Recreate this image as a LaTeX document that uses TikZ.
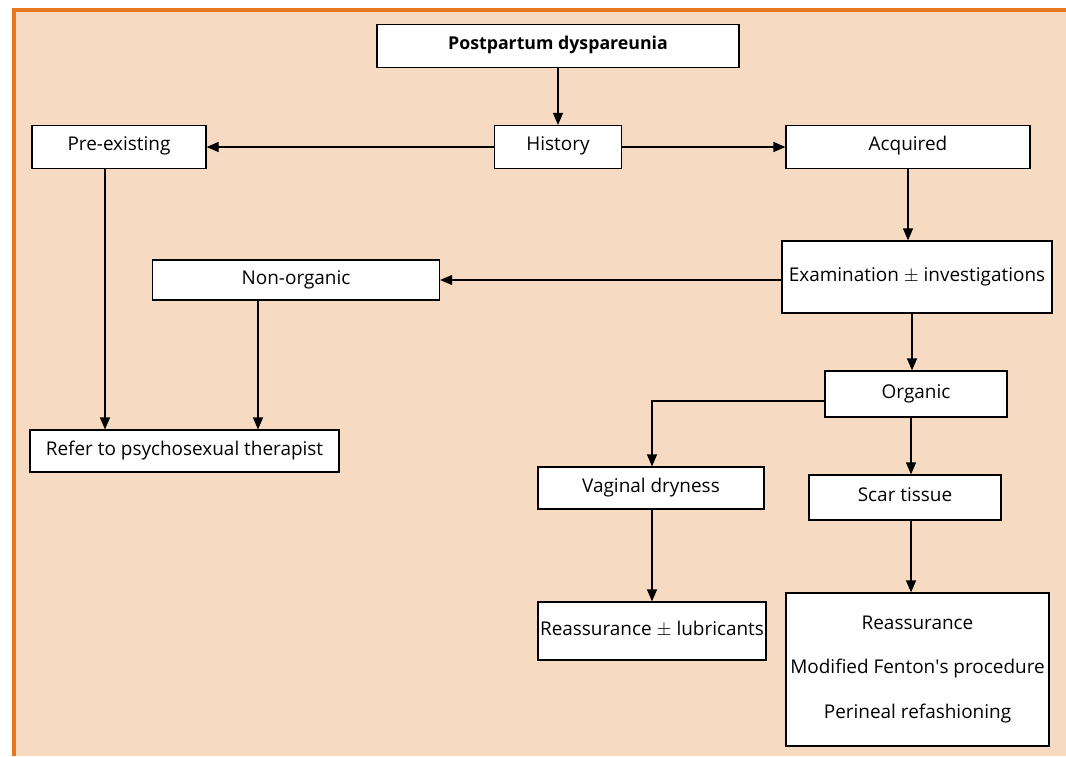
\documentclass[tikz,border=0pt]{standalone}
\usepackage{fontspec}
\setmainfont{Open Sans}
\usetikzlibrary{arrows.meta}
\definecolor{bgfill}{HTML}{F6DAC2}
\definecolor{frameor}{HTML}{E87722}
\begin{document}
\begin{tikzpicture}[x=0.75pt,y=-0.75pt,
  box/.style={draw=black,fill=white,line width=0.9pt,inner sep=0pt,align=center,text height=0.8em,text depth=0.2em,font=\fontsize{14.2}{17}\selectfont},
  conn/.style={line width=0.9pt,-{Triangle[length=9pt,width=7.5pt]}}]
\useasboundingbox (0,0) rectangle (1066,756);
\fill[bgfill] (14,10) rectangle (1066,756);
\draw[frameor,line width=2.4pt] (14,756) -- (14,10) -- (1066,10);
% boxes
\node[box,minimum width=362*0.75pt,minimum height=43*0.75pt,font=\fontsize{13.3}{16}\selectfont\bfseries] (pd) at (558,46) {Postpartum dyspareunia};
\node[box,minimum width=127*0.75pt,minimum height=43*0.75pt] (hi) at (558,147) {History};
\node[box,minimum width=174*0.75pt,minimum height=43*0.75pt] (pe) at (119,147) {Pre-existing};
\node[box,minimum width=244*0.75pt,minimum height=43*0.75pt] (ac) at (908,147) {Acquired};
\node[box,minimum width=270*0.75pt,minimum height=72*0.75pt] (ex) at (917,277) {Examination $\pm$ investigations};
\node[box,minimum width=287*0.75pt,minimum height=40*0.75pt] (no) at (296,280) {Non-organic};
\node[box,minimum width=182*0.75pt,minimum height=46*0.75pt] (or) at (916,394) {Organic};
\node[box,minimum width=309*0.75pt,minimum height=42*0.75pt] (rf) at (184.5,451) {Refer to psychosexual therapist};
\node[box,minimum width=226*0.75pt,minimum height=42*0.75pt] (vd) at (651,488) {Vaginal dryness};
\node[box,minimum width=192*0.75pt,minimum height=45*0.75pt] (st) at (905,497.5) {Scar tissue};
\node[box,minimum width=228*0.75pt,minimum height=58*0.75pt] (rl) at (652,631) {Reassurance $\pm$ lubricants};
\node[box,minimum width=263*0.75pt,minimum height=153*0.75pt,align=center,text height=,text depth=] (rm) at (917.5,669.5) {Reassurance\\[16.7pt]Modified Fenton\textquotesingle s procedure\\[16.7pt]Perineal refashioning};
% connectors
\draw[conn] (pd) -- (hi);
\draw[conn] (hi) -- (pe);
\draw[conn] (hi) -- (ac);
\draw[conn] (ac.south) -- (ex.north -| ac.south);
\draw[conn] (ex.west |- no.east) -- (no.east);
\draw[conn] (pe.south -| 105,0) -- (rf.north -| 105,0);
\draw[conn] (no.south -| 258,0) -- (rf.north -| 258,0);
\draw[conn] (ex.south -| 912,0) -- (or.north -| 912,0);
\draw[conn] (or.west |- 0,401) -| (vd.north -| 652,0);
\draw[conn] (or.south -| 911,0) -- (st.north -| 911,0);
\draw[conn] (vd.south -| 652,0) -- (rl.north -| 652,0);
\draw[conn] (st.south -| 911,0) -- (rm.north -| 911,0);
\end{tikzpicture}
\end{document}
